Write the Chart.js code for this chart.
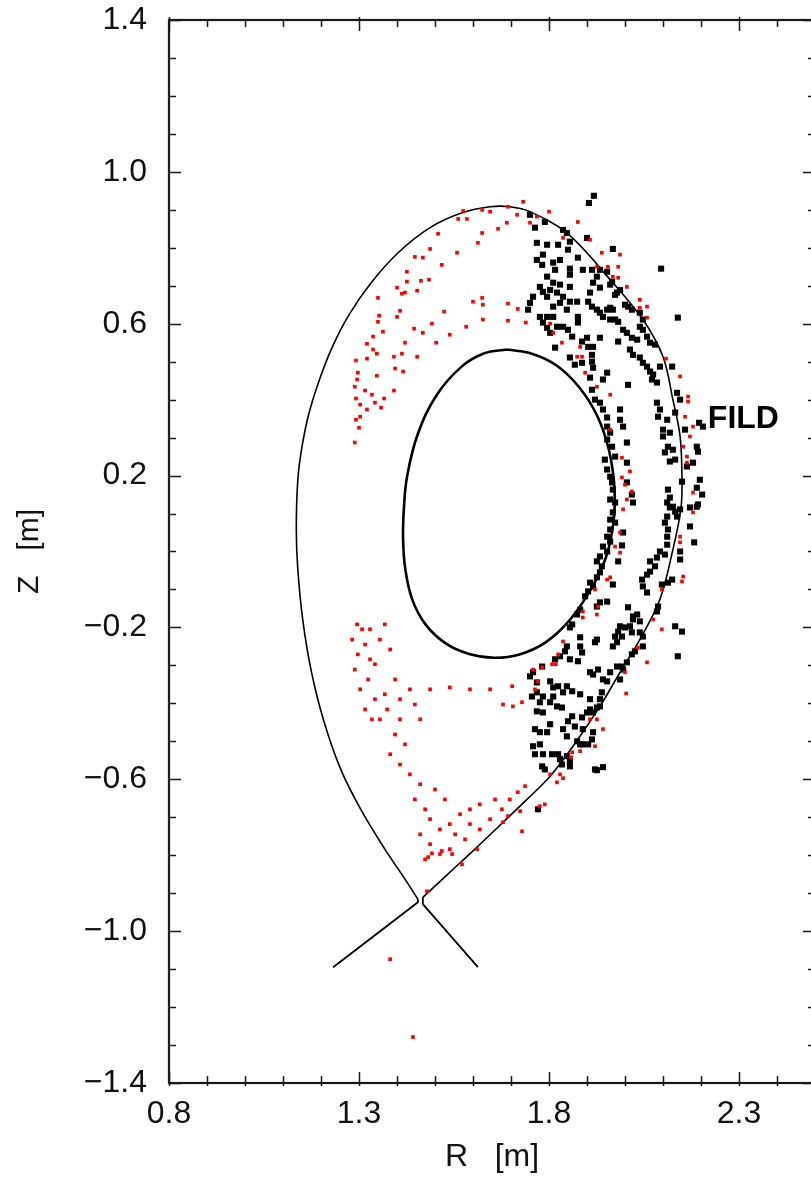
<!DOCTYPE html>
<html>
<head>
<meta charset="utf-8">
<script src="https://cdn.jsdelivr.net/npm/chart.js@4.4.0/dist/chart.umd.min.js"></script>
<style>
html,body{margin:0;padding:0;overflow:hidden;background:#fff;}
canvas{display:block;}
</style>
</head>
<body>
<canvas id="c" width="830" height="1180" style="width:830px;height:1180px"></canvas>
<script>
// ---- data (R [m], Z [m]) ----
const xTicks = [0.8, 1.3, 1.8, 2.3];
const yTicks = [-1.4, -1.0, -0.6, -0.2, 0.2, 0.6, 1.0, 1.4];
const xTitle = 'R   [m]';
const yTitle = 'Z   [m]';
const fildLabel = 'FILD';

const redPts = [
[1.732,0.921],[1.692,0.908],[1.574,0.897],[1.624,0.900],[1.645,0.895],[1.716,0.887],[1.561,0.876],[1.584,0.876],[1.689,0.866],[1.666,0.850],[1.624,0.839],[1.508,0.837],[1.613,0.813],[1.487,0.797],[1.558,0.787],[1.447,0.776],[1.468,0.774],[1.518,0.755],[1.426,0.737],[1.426,0.711],[1.463,0.713],[1.484,0.716],[1.400,0.695],[1.453,0.687],[1.413,0.679],[1.421,0.682],[1.350,0.668],[1.624,0.668],[1.600,0.658],[1.626,0.650],[1.692,0.653],[1.718,0.639],[1.524,0.632],[1.408,0.634],[1.400,0.618],[1.353,0.621],[1.350,0.605],[1.626,0.611],[1.582,0.592],[1.692,0.608],[1.739,0.603],[1.492,0.600],[1.445,0.587],[1.468,0.576],[1.363,0.579],[1.337,0.566],[1.539,0.571],[1.503,0.550],[1.421,0.550],[1.321,0.547],[1.337,0.532],[1.413,0.521],[1.453,0.513],[1.321,0.508],[1.347,0.521],[1.392,0.513],[1.292,0.503],[1.395,0.482],[1.416,0.474],[1.297,0.471],[1.347,0.463],[1.295,0.453],[1.289,0.434],[1.316,0.424],[1.392,0.424],[1.334,0.413],[1.292,0.403],[1.366,0.403],[1.342,0.392],[1.303,0.387],[1.358,0.379],[1.321,0.374],[1.303,0.355],[1.292,0.347],[1.300,0.326],[1.289,0.287],
[1.750,0.866],[1.768,0.882],[1.800,0.895],[1.837,0.826],[1.876,0.868],[1.908,0.821],[1.939,0.787],[1.987,0.782],[1.926,0.750],[1.955,0.750],[1.982,0.750],[1.968,0.724],[1.982,0.721],[2.005,0.697],[2.039,0.663],[2.058,0.645],[2.058,0.616],[2.039,0.642],
[1.803,0.600],[1.811,0.576],[1.834,0.550],[1.882,0.539],[1.874,0.513],[1.887,0.513],[1.895,0.471],[1.926,0.434],[1.961,0.413],[2.108,0.508],[2.145,0.461],[2.166,0.408],[2.166,0.395],[2.158,0.355],[2.179,0.329],[2.171,0.303],[2.153,0.276],[2.163,0.250],[2.163,0.234],[1.992,0.247],[2.013,0.211],[1.992,0.195],[2.000,0.176],[2.018,0.158],[2.005,0.137],[1.995,0.111],[2.179,0.155],[2.179,0.103],[1.961,0.321],
[1.987,0.050],[1.974,0.013],[1.987,-0.003],[2.145,0.039],[2.145,0.024],[2.153,-0.066],[2.150,-0.079],[1.961,-0.068],[1.953,-0.074],[1.921,-0.100],[1.929,-0.145],[1.926,-0.166],[1.889,-0.158],[1.889,-0.174],[2.097,-0.100],[2.074,-0.179],[2.097,-0.205],[2.034,-0.253],[2.058,-0.292],[2.000,-0.318],[2.003,-0.374],[1.837,-0.237],[1.824,-0.271],[1.818,-0.297],[1.808,-0.297],[1.782,-0.305],[1.758,-0.311],[1.771,-0.342],[1.763,-0.363],[1.703,-0.355],[1.679,-0.403],[1.705,-0.408],[1.729,-0.397],[1.908,-0.442],[1.926,-0.442],[1.942,-0.468],[1.921,-0.513],[1.882,-0.526],[1.861,-0.529],[1.858,-0.542],[1.803,-0.587],[1.829,-0.587],[1.837,-0.597],[1.821,-0.608],[1.737,-0.618],[1.718,-0.634],[1.789,-0.666],[1.776,-0.671],[1.724,-0.684],[1.676,-0.679],[1.692,-0.697],[1.679,-0.713],[1.729,-0.737],
[1.295,-0.192],[1.308,-0.205],[1.282,-0.232],[1.316,-0.245],[1.297,-0.271],[1.329,-0.284],[1.289,-0.311],[1.324,-0.337],[1.303,-0.363],[1.342,-0.389],[1.316,-0.416],[1.334,-0.442],[1.355,-0.232],[1.382,-0.258],[1.342,-0.297],[1.395,-0.337],[1.368,-0.376],[1.408,-0.389],[1.434,-0.363],[1.487,-0.363],[1.539,-0.358],[1.592,-0.363],[1.645,-0.363],[1.447,-0.403],[1.355,-0.442],[1.395,-0.482],[1.421,-0.508],[1.382,-0.534],[1.408,-0.561],[1.434,-0.587],[1.461,-0.613],[1.447,-0.653],[1.474,-0.679],[1.487,-0.705],[1.513,-0.732],[1.539,-0.718],[1.566,-0.692],[1.592,-0.679],[1.618,-0.666],[1.658,-0.653],[1.461,-0.745],[1.487,-0.771],[1.513,-0.797],[1.474,-0.811],[1.539,-0.784],[1.579,-0.758],[1.618,-0.732],[1.645,-0.705],[1.697,-0.653],[1.368,-0.192],[1.329,-0.205],[1.408,-0.442],[1.374,-0.416],[1.461,-0.442],[1.526,-0.653],[1.553,-0.745],[1.592,-0.718],[1.500,-0.627],
[1.382,-1.074],[1.442,-1.279],[1.479,-0.895],[1.571,-0.824],[1.482,-0.805],[1.492,-0.795],[1.518,-0.789],[1.545,-0.797],[1.611,-0.784]
];

const blackPts = [
[1.918,0.937],[1.905,0.918],[1.837,0.847],[1.847,0.839],[1.768,0.813],[1.795,0.808],[1.824,0.808],[1.855,0.816],[1.900,0.826],[1.784,0.782],[1.850,0.795],[1.876,0.774],[1.768,0.768],[1.811,0.761],[1.829,0.768],[1.782,0.755],[1.968,0.797],[1.889,0.742],[1.855,0.745],[1.816,0.742],[1.795,0.724],[1.855,0.729],[1.913,0.742],[1.934,0.742],[1.926,0.724],[1.916,0.708],[1.934,0.695],[2.095,0.745],[1.961,0.703],[1.979,0.682],[1.811,0.708],[1.829,0.703],[1.776,0.697],[1.784,0.684],[1.803,0.689],[1.795,0.671],[1.821,0.682],[1.837,0.671],[1.855,0.697],[1.758,0.671],[1.750,0.655],[1.745,0.637],[1.855,0.658],[1.874,0.658],[1.829,0.655],[1.811,0.645],[1.847,0.637],[1.811,0.618],[1.776,0.618],[1.795,0.618],[1.876,0.618],[1.876,0.603],[1.908,0.682],[1.903,0.658],[1.913,0.645],[1.926,0.637],[1.934,0.629],[1.942,0.618],[1.953,0.637],[1.961,0.642],[1.968,0.637],[1.961,0.611],[1.974,0.611],[1.982,0.605],[2.000,0.650],[2.008,0.645],[2.018,0.637],[2.039,0.629],[2.047,0.611],[2.039,0.592],[2.047,0.584],[2.058,0.566],[2.066,0.550],[2.079,0.545],[2.139,0.616],[1.995,0.584],[2.005,0.576],[2.018,0.563],[2.032,0.558],[1.982,0.553],[1.934,0.563],[1.900,0.563],[1.887,0.553],[1.903,0.539],[1.916,0.539],[1.784,0.603],[1.795,0.589],[1.803,0.576],[1.821,0.592],[1.837,0.592],[1.850,0.584],[1.861,0.566],[1.816,0.537],[2.013,0.532],[2.021,0.518],[2.039,0.511],[2.047,0.497],[2.058,0.487],[2.066,0.474],[2.074,0.466],[2.071,0.453],[2.084,0.445],[2.092,0.487],[2.124,0.487],[2.008,0.439],[1.953,0.471],[1.942,0.453],[1.913,0.518],[1.913,0.500],[1.916,0.484],[1.868,0.492],[1.887,0.497],[1.855,0.511],[1.908,0.458],[1.913,0.426],[1.921,0.400],[1.934,0.392],[1.942,0.374],[1.953,0.353],[1.953,0.329],[1.961,0.313],[1.953,0.295],[1.966,0.276],[1.974,0.250],[1.987,0.374],[1.987,0.347],[1.995,0.329],[2.005,0.287],[1.947,0.242],[1.953,0.216],[1.961,0.197],[1.966,0.182],[1.968,0.163],[1.961,0.137],[1.974,0.129],[1.968,0.103],[2.005,0.234],[2.005,0.182],[2.018,0.150],[2.021,0.129],[2.084,0.392],[2.092,0.374],[2.087,0.355],[2.111,0.347],[2.100,0.321],[2.100,0.303],[2.118,0.313],[2.132,0.366],[2.137,0.418],[2.145,0.400],[2.126,0.268],[2.113,0.276],[2.105,0.261],[2.118,0.237],[2.132,0.242],[2.158,0.321],[2.195,0.339],[2.205,0.329],[2.189,0.276],[2.192,0.263],[2.179,0.234],[2.163,0.224],[2.197,0.189],[2.189,0.168],[2.113,0.163],[2.118,0.142],[2.111,0.129],[2.126,0.118],[2.145,0.111],[2.150,0.184],[2.203,0.150],[2.189,0.118],[2.111,0.092],[2.137,0.092],
[1.974,0.076],[1.961,0.084],[1.961,0.058],[1.995,0.050],[1.953,0.039],[1.961,0.026],[1.942,0.013],[1.992,0.016],[1.953,0.000],[1.934,-0.013],[1.982,-0.026],[1.926,-0.026],[1.939,-0.039],[1.934,-0.055],[1.926,-0.068],[1.968,-0.087],[1.908,-0.082],[1.916,-0.092],[1.903,-0.105],[1.895,-0.118],[1.953,-0.132],[1.934,-0.134],[1.926,-0.145],[1.882,-0.153],[1.874,-0.166],[1.861,-0.192],[1.855,-0.200],[1.882,-0.226],[1.847,-0.250],[1.842,-0.263],[1.882,-0.250],[1.887,-0.266],[1.926,-0.232],[1.921,-0.239],[1.855,-0.284],[1.876,-0.289],[1.829,-0.276],[1.816,-0.284],[1.782,-0.303],[1.758,-0.318],[1.750,-0.329],[1.768,-0.345],[1.803,-0.342],[1.811,-0.358],[1.824,-0.355],[1.847,-0.355],[1.861,-0.368],[1.837,-0.371],[1.811,-0.382],[1.784,-0.382],[1.768,-0.371],[1.755,-0.382],[1.776,-0.397],[1.803,-0.397],[1.821,-0.408],[1.834,-0.411],[1.882,-0.376],[1.908,-0.389],[1.768,-0.421],[1.784,-0.424],[1.861,-0.434],[1.850,-0.447],[1.868,-0.461],[1.803,-0.455],[1.763,-0.468],[1.776,-0.476],[1.795,-0.476],[1.837,-0.468],[1.847,-0.487],[1.776,-0.508],[1.763,-0.534],[1.784,-0.534],[1.808,-0.534],[1.824,-0.534],[1.782,-0.566],[1.789,-0.574],[1.834,-0.561],[1.855,-0.553],[1.889,-0.508],[1.921,-0.574],[1.942,-0.568],[1.771,-0.679],[1.908,-0.318],[1.916,-0.324],[1.929,-0.311],[1.942,-0.337],[1.961,-0.318],[1.968,-0.250],[1.979,-0.239],[1.992,-0.224],[1.974,-0.224],[1.982,-0.211],[1.987,-0.197],[2.000,-0.200],[2.013,-0.197],[2.021,-0.179],[2.032,-0.166],[2.018,-0.213],[2.039,-0.213],[2.047,-0.224],[2.047,-0.250],[2.008,-0.147],[2.021,-0.171],[1.995,-0.311],[1.979,-0.303],[1.987,-0.337],[1.939,-0.371],[1.934,-0.408],[1.926,-0.411],[1.916,-0.424],[1.900,-0.424],[1.887,-0.437],[1.889,-0.468],[1.916,-0.476],[1.913,-0.495],[1.903,-0.508],[1.874,-0.500],[1.855,-0.566],[1.847,-0.539],[1.829,-0.547],[1.758,-0.513],
[2.092,0.000],[2.084,-0.016],[2.105,-0.008],[2.066,-0.026],[2.079,-0.039],[2.066,-0.053],[2.058,-0.061],[2.045,-0.074],[2.047,-0.092],[2.058,-0.108],[2.113,-0.082],[2.124,-0.074],[2.111,0.018],[2.111,0.039],[2.113,0.058],[2.105,0.076],[2.118,0.116],[2.132,0.105],[2.171,0.116],[2.192,0.124],[2.171,0.066],[2.182,0.024],[2.145,-0.021],[2.145,0.000],[2.097,-0.087],[2.084,-0.158],[2.087,-0.145],[2.132,-0.197],[2.150,-0.211],[2.139,-0.276],[2.039,-0.184],[2.026,-0.263],[2.018,-0.271],[2.005,-0.292],[1.992,-0.303],[1.953,-0.342],[1.934,-0.389],[1.908,-0.416],[1.882,-0.508],[1.926,-0.576],
[1.953,0.737],[1.966,0.711],[1.974,0.676],[1.987,0.689],[1.750,0.887],[1.789,0.868],[1.763,0.853]
];

// last closed flux surface with X-point
const sepMainPts = [
[1.455,-0.916],[1.421,-0.863],[1.368,-0.784],[1.305,-0.680],[1.252,-0.574],[1.207,-0.445],[1.174,-0.313],[1.152,-0.180],[1.139,-0.047],[1.135,0.058],[1.139,0.189],[1.150,0.276],[1.168,0.363],[1.195,0.450],[1.229,0.537],[1.274,0.624],[1.332,0.708],[1.403,0.787],[1.487,0.853],[1.571,0.892],[1.645,0.908],[1.697,0.908],[1.750,0.895],[1.847,0.839],[1.961,0.716],[2.047,0.611],[2.100,0.513],[2.126,0.400],[2.145,0.303],[2.150,0.189],[2.147,0.111],[2.126,0.005],[2.092,-0.126],[2.039,-0.232],[1.987,-0.318],[1.934,-0.408],[1.863,-0.513],[1.803,-0.592],[1.742,-0.653],[1.671,-0.721],[1.605,-0.784],[1.539,-0.845],[1.468,-0.911]
];
const legLeftPts = [[1.455,-0.916],[1.455,-0.924],[1.232,-1.095]];
const legRightPts = [[1.468,-0.911],[1.468,-0.929],[1.613,-1.095]];
// inner flux surface
const innerPts = [
[1.690,0.532],[1.755,0.521],[1.820,0.490],[1.880,0.432],[1.928,0.355],[1.958,0.266],[1.972,0.170],[1.970,0.080],[1.950,-0.015],[1.910,-0.100],[1.855,-0.180],[1.790,-0.240],[1.720,-0.272],[1.655,-0.280],[1.590,-0.270],[1.528,-0.242],[1.475,-0.192],[1.440,-0.126],[1.422,-0.047],[1.416,0.032],[1.418,0.111],[1.427,0.200],[1.455,0.310],[1.505,0.413],[1.570,0.487],[1.630,0.522],[1.690,0.532]
];
const fildPos = [2.218, 0.324];

const toXY = a => a.map(p => ({x: p[0], y: p[1]}));
const FONT = '"Liberation Sans", Arial, Helvetica, sans-serif';

const frameTicks = {
  id: 'frameTicks',
  beforeDatasetsDraw(chart) {
    const {ctx, chartArea: a, scales: {x, y}} = chart;
    ctx.save();
    ctx.strokeStyle = '#1a1a1a';
    ctx.lineWidth = 1.5;
    ctx.beginPath();
    const nx = Math.round((x.max - x.min) * 10);
    for (let i = 0; i <= nx; i++) {
      const v = x.min + i * 0.1;
      const px = Math.round(x.getPixelForValue(v)) + 0.5;
      const major = xTicks.some(t => Math.abs(t - v) < 1e-6);
      const L = major ? 11 : 7;
      ctx.moveTo(px, a.bottom + 3); ctx.lineTo(px, a.bottom - L);
      ctx.moveTo(px, a.top - (major ? 3 : 0)); ctx.lineTo(px, a.top + L);
    }
    const ny = Math.round((y.max - y.min) * 10);
    for (let i = 0; i <= ny; i++) {
      const v = y.min + i * 0.1;
      const py = Math.round(y.getPixelForValue(v)) + 0.5;
      const major = yTicks.some(t => Math.abs(t - v) < 1e-6);
      const L = major ? 12 : 7;
      ctx.moveTo(a.left, py); ctx.lineTo(a.left + L, py);
      ctx.moveTo(a.right, py); ctx.lineTo(a.right - L, py);
    }
    ctx.stroke();
    ctx.lineWidth = 2.2;
    ctx.strokeRect(a.left, a.top, a.right - a.left, a.bottom - a.top);
    ctx.restore();
  },
  afterDatasetsDraw(chart) {
    const {ctx, scales: {x, y}} = chart;
    ctx.save();
    ctx.fillStyle = '#000';
    ctx.font = 'bold 32px ' + FONT;
    ctx.textBaseline = 'alphabetic';
    ctx.textAlign = 'left';
    ctx.fillText(fildLabel, x.getPixelForValue(fildPos[0]), y.getPixelForValue(fildPos[1]));
    ctx.restore();
  }
};

const lineDs = (pts, w, t) => ({
  data: toXY(pts), showLine: true, borderColor: '#000', borderWidth: w,
  pointRadius: 0, tension: t, fill: false, order: 3
});

new Chart(document.getElementById('c'), {
  type: 'scatter',
  data: {
    datasets: [
      {data: toXY(redPts), pointStyle: 'rect', pointRadius: 2.6, pointBorderWidth: 0,
       pointBackgroundColor: '#ff0000', backgroundColor: '#ff0000', borderColor: '#ff0000', order: 0},
      {data: toXY(blackPts), pointStyle: 'rect', pointRadius: 4.3, pointBorderWidth: 0,
       pointBackgroundColor: '#000', backgroundColor: '#000', borderColor: '#000', order: 1},
      lineDs(sepMainPts, 1.6, 0.35),
      lineDs(legLeftPts, 1.8, 0),
      lineDs(legRightPts, 1.8, 0),
      lineDs(innerPts, 2.6, 0.4)
    ]
  },
  options: {
    responsive: false,
    devicePixelRatio: 1,
    animation: false,
    events: [],
    layout: {padding: {left: 0, top: 20, right: 15, bottom: 0}},
    plugins: {legend: {display: false}, tooltip: {enabled: false}},
    scales: {
      x: {
        type: 'linear', position: 'bottom', min: 0.8, max: 2.5,
        grid: {display: false, drawTicks: false}, border: {display: false},
        afterBuildTicks: s => { s.ticks = xTicks.map(v => ({value: v})); },
        afterFit: s => { s.height = 97; s.paddingLeft = 0; s.paddingRight = 0; },
        ticks: {autoSkip: false, maxRotation: 0, padding: 12, color: '#111',
                font: {family: FONT, size: 32},
                callback: v => v.toFixed(1)},
        title: {display: true, text: xTitle, color: '#111', font: {family: FONT, size: 32},
                padding: {top: 0, bottom: 4}}
      },
      y: {
        type: 'linear', position: 'left', min: -1.4, max: 1.4,
        grid: {display: false, drawTicks: false}, border: {display: false},
        afterBuildTicks: s => { s.ticks = yTicks.map(v => ({value: v})); },
        afterFit: s => { s.width = 169; s.paddingTop = 0; s.paddingBottom = 0; },
        ticks: {autoSkip: false, padding: 22, color: '#111',
                font: {family: FONT, size: 32},
                callback: v => (v < 0 ? '\u2212' + Math.abs(v).toFixed(1) : v.toFixed(1))},
        title: {display: true, text: yTitle, color: '#111', font: {family: FONT, size: 30},
                padding: {top: 12, bottom: 0}}
      }
    }
  },
  plugins: [frameTicks]
});
</script>
</body>
</html>
